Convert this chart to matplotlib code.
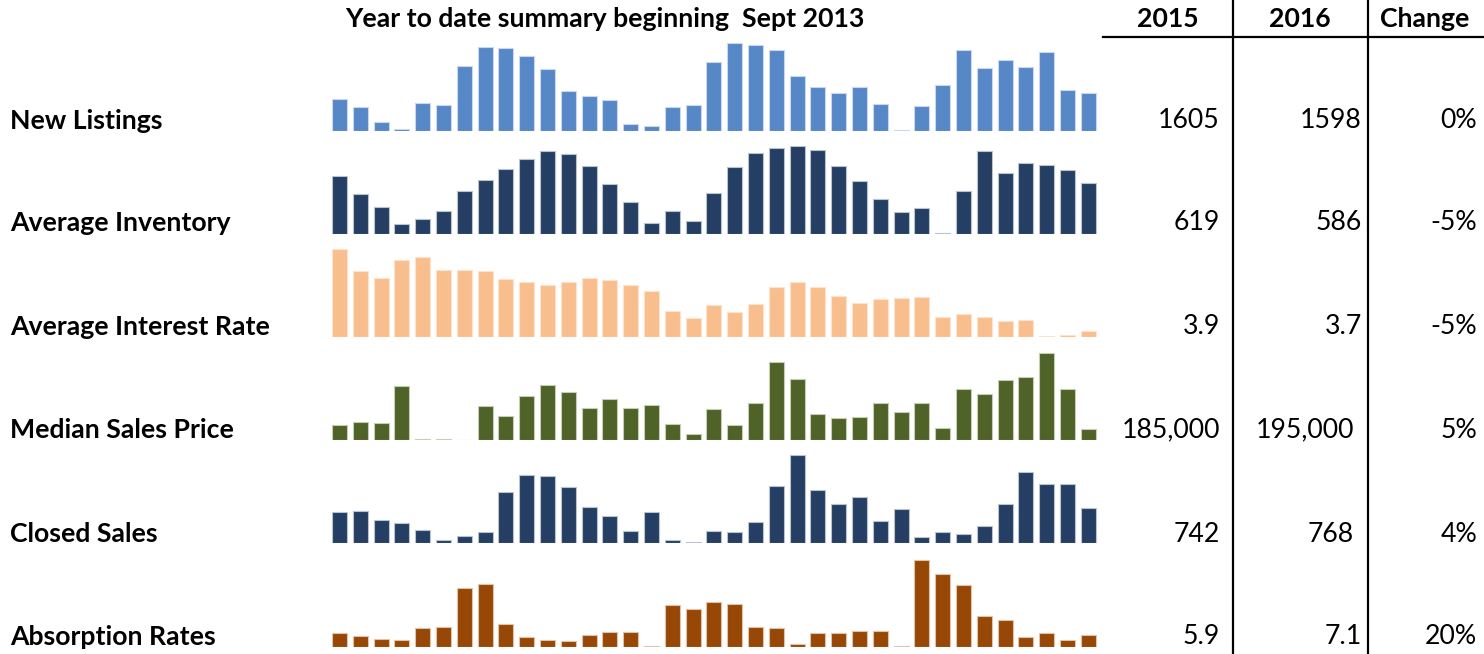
import matplotlib
matplotlib.use("Agg")
import matplotlib.pyplot as plt
from matplotlib.lines import Line2D

plt.rcParams['font.family'] = ['Lato', 'DejaVu Sans']

W, H = 1484, 654

title = "Year to date summary beginning  Sept 2013"
headers = ["2015", "2016", "Change"]
row_labels = ["New Listings", "Average Inventory", "Average Interest Rate",
              "Median Sales Price", "Closed Sales", "Absorption Rates"]
values_2015 = ["1605", "619", "3.9", "185,000", "742", "5.9"]
values_2016 = ["1598", "586", "3.7", "195,000", "768", "7.1"]
changes = ["0%", "-5%", "-5%", "5%", "4%", "20%"]

# Sparkline heights (relative units), 37 months each
new_listings = [96, 71, 27, 6, 85, 77, 195, 252, 250, 224, 187, 121, 106, 94, 20, 16, 71, 77,
                206, 264, 257, 242, 164, 131, 115, 133, 81, 4, 74, 139, 242, 189, 213, 191, 238, 122, 114]
avg_inventory = [175, 119, 80, 29, 45, 70, 130, 162, 195, 226, 248, 239, 203, 150, 97, 34, 68, 38,
                 124, 201, 244, 259, 264, 252, 204, 160, 106, 65, 77, 3, 130, 249, 184, 213, 206, 192, 153]
interest_rate = [263, 197, 177, 232, 239, 200, 200, 197, 175, 164, 156, 164, 177, 171, 155, 138, 79, 57,
                 97, 75, 99, 151, 166, 151, 122, 102, 114, 116, 120, 61, 68, 59, 48, 52, 3, 6, 18]
median_price = [44, 53, 52, 163, 3, 2, 1, 103, 73, 132, 164, 143, 96, 123, 96, 106, 48, 18,
                94, 46, 110, 233, 184, 79, 67, 68, 110, 83, 110, 35, 153, 137, 179, 188, 262, 153, 34]
closed_sales = [93, 95, 70, 60, 38, 10, 21, 34, 152, 203, 201, 167, 107, 82, 36, 93, 10, 3,
                36, 34, 63, 171, 263, 158, 118, 137, 66, 103, 18, 34, 27, 50, 116, 213, 176, 178, 106]
absorption = [42, 33, 24, 21, 57, 60, 178, 189, 68, 30, 22, 18, 35, 45, 44, 3, 127, 114,
              135, 130, 60, 57, 10, 43, 41, 48, 47, 3, 262, 218, 187, 94, 82, 29, 41, 20, 35]

series = [new_listings, avg_inventory, interest_rate, median_price, closed_sales, absorption]
colors = ["#5687C6", "#243F63", "#F9BE8D", "#4F6228", "#243F63", "#974706"]
edge_colors = ["#C9D8EE", "#B8C2D0", "#FDE3CC", "#C5CDB5", "#B8C2D0", "#E2C3A8"]

baselines = [131, 234, 337, 440, 543, 647]   # pixel y of each sparkline base
text_y = [121, 223, 327, 430, 534, 637]

fig = plt.figure(figsize=(W / 100, H / 100), dpi=100)

def fx(px):
    return px / W

def fy(py):
    return 1 - py / H

x_left, x_right = 329.1, 1098.7
row_h = 88
for vals, col, ec, base in zip(series, colors, edge_colors, baselines):
    ax = fig.add_axes([fx(x_left), fy(base), fx(x_right - x_left), row_h / H])
    ax.bar(range(len(vals)), vals, width=0.72, color=col, edgecolor=ec, linewidth=0.8)
    ax.set_xlim(-0.5, len(vals) - 0.5)
    ax.set_ylim(0, 264)
    ax.axis('off')

fs = 19.2
fig.text(fx(605), fy(19), title, ha='center', va='center', fontsize=fs, fontweight='bold')
for hx, h in zip([1168, 1300, 1425], headers):
    fig.text(fx(hx), fy(19), h, ha='center', va='center', fontsize=fs, fontweight='bold')

for lab, v15, v16, ch, ty in zip(row_labels, values_2015, values_2016, changes, text_y):
    fig.text(fx(10), fy(ty), lab, ha='left', va='center', fontsize=fs, fontweight='bold')
    fig.text(fx(1220), fy(ty), v15, ha='right', va='center', fontsize=fs)
    x16 = 1354 if ',' in v16 or v16 == "768" else 1362
    fig.text(fx(x16), fy(ty), v16, ha='right', va='center', fontsize=fs)
    fig.text(fx(1477), fy(ty), ch, ha='right', va='center', fontsize=fs)

# table lines
fig.add_artist(Line2D([fx(1103), fx(1484)], [fy(37), fy(37)], color='black', lw=1.6))
for vx in [1233, 1368]:
    fig.add_artist(Line2D([fx(vx), fx(vx)], [fy(0), fy(654)], color='black', lw=1.6))

fig.savefig("out.png", dpi=100)
